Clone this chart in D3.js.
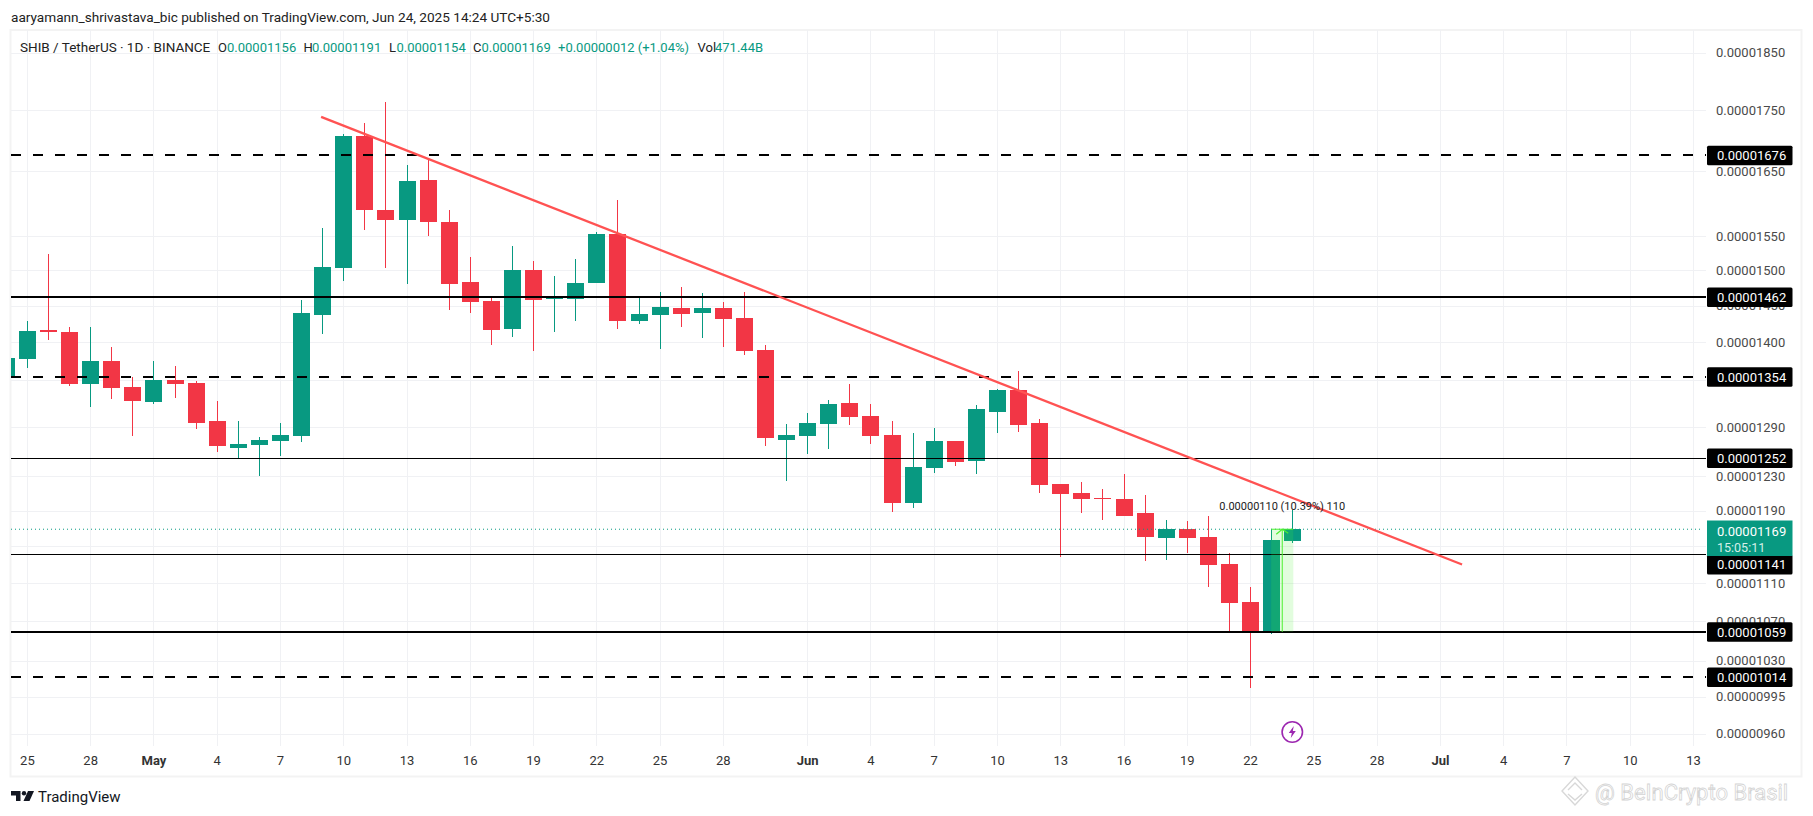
<!DOCTYPE html>
<html><head><meta charset="utf-8">
<script src="https://cdn.jsdelivr.net/npm/d3@7"></script>
<style>
html,body{margin:0;padding:0;background:#fff;overflow:hidden}
svg{display:block}
text{font-family:Roboto,"Liberation Sans",sans-serif}
</style></head><body><svg id="c" width="1813" height="816"></svg>
<script>
// ---- data: all prices in units of 0.00000001 USDT, daily candles from 24 Apr 2025
const firstDay = "2025-04-24";
const opens  = [1354,1377,1417,1414,1344,1374,1341,1322,1350,1346,1297,1264,1268,1273,1279,1437,1504,1708,1590,1575,1637,1572,1484,1457,1418,1501,1459,1459,1482,1554,1429,1437,1447,1440,1446,1433,1389,1274,1279,1294,1320,1304,1280,1199,1240,1273,1249,1309,1337,1295,1221,1210,1205,1203,1187,1159,1169,1160,1130,1090,1060,1156];
const highs  = [1379,1429,1524,1420,1421,1393,1354,1375,1368,1348,1323,1298,1277,1295,1458,1563,1711,1729,1764,1661,1669,1590,1520,1464,1536,1514,1492,1517,1556,1605,1461,1469,1476,1468,1455,1469,1396,1294,1308,1324,1344,1319,1297,1283,1289,1273,1317,1338,1362,1300,1221,1223,1215,1233,1208,1179,1178,1184,1143,1106,1169,1191];
const lows   = [1354,1366,1403,1342,1315,1325,1279,1319,1327,1288,1259,1252,1230,1255,1272,1411,1485,1560,1504,1480,1551,1444,1440,1396,1407,1388,1413,1428,1482,1418,1424,1391,1420,1405,1393,1383,1266,1225,1257,1263,1293,1269,1189,1193,1234,1242,1233,1282,1284,1211,1138,1187,1180,1184,1134,1135,1142,1106,1058,1003,1057,1154];
const closes = [1379,1415,1413,1344,1374,1340,1323,1350,1345,1295,1266,1269,1274,1280,1440,1505,1708,1590,1575,1635,1571,1481,1455,1417,1500,1458,1461,1482,1554,1429,1439,1448,1439,1446,1432,1388,1276,1280,1295,1319,1303,1279,1199,1241,1273,1247,1312,1337,1293,1220,1209,1203,1203,1184,1160,1169,1159,1129,1089,1060,1157,1169];

const priceTicks = [1850,1750,1650,1550,1500,1450,1400,1290,1230,1190,1110,1070,1030,995,960];
const gridOnlyPrices = [1350,1150];
const levels = [
  {p:1676,dash:true,w:2,off:0},{p:1462,dash:false,w:2,off:0},{p:1354,dash:true,w:2,off:0},
  {p:1252,dash:false,w:1,off:0},{p:1141,dash:false,w:1,off:10},{p:1059,dash:false,w:2,off:0},{p:1014,dash:true,w:2,off:0}];
const lastPrice = 1169;
const timeTickDates = ["2025-04-25","2025-04-28","2025-05-01","2025-05-04","2025-05-07","2025-05-10","2025-05-13","2025-05-16","2025-05-19","2025-05-22","2025-05-25","2025-05-28","2025-06-01","2025-06-04","2025-06-07","2025-06-10","2025-06-13","2025-06-16","2025-06-19","2025-06-22","2025-06-25","2025-06-28","2025-07-01","2025-07-04","2025-07-07","2025-07-10","2025-07-13"];
const timeTickLabels = ["25","28","May","4","7","10","13","16","19","22","25","28","Jun","4","7","10","13","16","19","22","25","28","Jul","4","7","10","13"];
const trendDates = ["2025-05-08T22:48Z","2025-07-02T01:12Z"], trendPrices = [1739,1130];
const measureDates = ["2025-06-23","2025-06-24"], measurePrices = [1059,1169];
const measureLabel = "0.00000110 (10.39%) 110";

// ---- scales
const d = s => new Date(s.length===10 ? s+"T00:00Z" : s);
const x = d3.scaleUtc().domain([d("2025-04-25"),d("2025-07-13")]).range([26.9,1693]);
const y = d3.scaleLog().domain([960,1850]).range([733.7,52.7]);
const fmt = v => (v*1e-8).toFixed(8);
const days = opens.map((_,i)=>d3.utcDay.offset(d(firstDay),i));
const GREEN="#089981", RED="#f23645", BLACK="#000";

const svg = d3.select("#c");
svg.append("defs").append("clipPath").attr("id","plot").append("rect").attr("x",11).attr("y",30).attr("width",1695).attr("height",716);

// frame
svg.append("rect").attr("x",10.5).attr("y",30).attr("width",1791).attr("height",746.5).attr("fill","none").attr("stroke","#f3f3f3").attr("stroke-width",2);

// grid through the axes
const gridY = svg.append("g").attr("transform","translate(1706,0)")
  .call(d3.axisLeft(y).tickValues(priceTicks.concat(gridOnlyPrices)).tickSize(1695).tickFormat(""));
const gridX = svg.append("g").attr("transform","translate(0,746)")
  .call(d3.axisBottom(x).tickValues(timeTickDates.map(d)).tickSize(-716).tickFormat(""));
[gridY,gridX].forEach(g=>{g.select(".domain").remove();g.selectAll("line").attr("stroke","#f0f1f4").attr("shape-rendering","crispEdges");});

// candles
const plot = svg.append("g").attr("clip-path","url(#plot)");
const col = i => closes[i]>=opens[i]?GREEN:RED;
plot.selectAll("rect.w").data(days).join("rect").attr("class","w")
  .attr("x",(t)=>Math.round(x(t))).attr("width",1)
  .attr("y",(t,i)=>y(highs[i])).attr("height",(t,i)=>y(lows[i])-y(highs[i]))
  .attr("fill",(t,i)=>col(i)).attr("shape-rendering","crispEdges");
plot.selectAll("rect.b").data(days).join("rect").attr("class","b")
  .attr("x",(t)=>Math.round(x(t))-8).attr("width",17)
  .attr("y",(t,i)=>y(Math.max(opens[i],closes[i])))
  .attr("height",(t,i)=>Math.max(1,Math.abs(y(opens[i])-y(closes[i]))))
  .attr("fill",(t,i)=>col(i)).attr("shape-rendering","crispEdges");

// price dotted line
svg.append("line").attr("x1",11).attr("x2",1703).attr("y1",y(lastPrice)).attr("y2",y(lastPrice))
  .attr("stroke",GREEN).attr("stroke-dasharray","1 3");

// levels
svg.append("g").selectAll("line").data(levels).join("line")
  .attr("x1",11).attr("x2",1706).attr("y1",l=>y(l.p)).attr("y2",l=>y(l.p))
  .attr("stroke",BLACK).attr("stroke-width",l=>l.w).attr("shape-rendering","crispEdges")
  .attr("stroke-dasharray",l=>l.dash?"10 12":null);

// trend line
svg.append("path").datum(trendDates.map((t,i)=>[d(t),trendPrices[i]]))
  .attr("d",d3.line().x(p=>x(p[0])).y(p=>y(p[1])))
  .attr("stroke","#ff5252").attr("stroke-width",2.3).attr("fill","none");

// measure tool
const mx0=x(d(measureDates[0])), mx1=x(d(measureDates[1])), my0=y(measurePrices[1]), my1=y(measurePrices[0]);
const mxm=(mx0+mx1)/2+0.5, mg=svg.append("g");
mg.append("rect").attr("x",mx0).attr("y",my0).attr("width",mx1-mx0+1).attr("height",my1-my0).attr("fill","rgba(76,240,48,0.16)");
mg.append("line").attr("x1",mx0).attr("x2",mx1+1).attr("y1",my0).attr("y2",my0).attr("stroke","#4cf030");
mg.append("line").attr("x1",mxm).attr("x2",mxm).attr("y1",my0).attr("y2",my1).attr("stroke","#4cf030");
mg.append("path").attr("d",d3.line()([[mxm-6,my0+5],[mxm,my0],[mxm+6,my0+4]])).attr("fill","none").attr("stroke","#4cf030").attr("stroke-width",1.2);
mg.append("text").attr("x",mxm).attr("y",510).attr("text-anchor","middle").attr("font-size",11).attr("fill","#222").text(measureLabel);

// price axis
const py = svg.append("g").attr("transform","translate(1716,0)")
  .call(d3.axisRight(y).tickValues(priceTicks).tickSize(0).tickPadding(0).tickFormat(fmt));
py.select(".domain").remove();
py.selectAll("text").attr("font-size",13).attr("fill","#4a4a4a").attr("font-family","Roboto,sans-serif");

// level boxes
const lb = svg.append("g").selectAll("g").data(levels).join("g").attr("transform",l=>`translate(1707,${y(l.p)+l.off})`);
lb.append("rect").attr("x",0).attr("y",-9.5).attr("width",85.5).attr("height",19.5).attr("rx",1.5).attr("fill",BLACK);
lb.append("text").attr("x",10).attr("y",5).attr("font-size",13).attr("fill","#fff").text(l=>fmt(l.p));
const pb = svg.append("g").attr("transform","translate(1707,0)");
pb.append("rect").attr("x",0).attr("y",520.5).attr("width",85.5).attr("height",35.5).attr("fill",GREEN);
pb.append("text").attr("x",10).attr("y",535.5).attr("font-size",13).attr("fill","#fff").text(fmt(lastPrice));
pb.append("text").attr("x",10).attr("y",552).attr("font-size",12.5).attr("fill","#d5efe9").text("15:05:11");

// time axis
const tx = svg.append("g").attr("transform","translate(0,750)")
  .call(d3.axisBottom(x).tickValues(timeTickDates.map(d)).tickSize(0).tickPadding(6).tickFormat((t,i)=>timeTickLabels[i]));
tx.select(".domain").remove();
tx.selectAll("text").attr("font-size",13).attr("fill","#333").attr("font-family","Roboto,sans-serif")
  .attr("font-weight",(t,i)=>/[A-Z]/.test(timeTickLabels[i])?700:400);

// title & legend
svg.append("text").attr("x",11).attr("y",22).attr("font-size",13.6).attr("fill","#222")
  .text("aaryamann_shrivastava_bic published on TradingView.com, Jun 24, 2025 14:24 UTC+5:30");
const hdr=[["SHIB / TetherUS · 1D · BINANCE",20,"#222",13.5],["O",218,"#222",13],["0.00001156",227,GREEN,13],["H",303.5,"#222",13],["0.00001191",312,GREEN,13],
 ["L",389,"#222",13],["0.00001154",396.5,GREEN,13],["C",473,"#222",13],["0.00001169",481.5,GREEN,13],["+0.00000012 (+1.04%)",558,GREEN,13],["Vol",697.5,"#222",13],["471.44B",715,GREEN,13]];
svg.append("g").selectAll("text").data(hdr).join("text").attr("x",h=>h[1]).attr("y",52).attr("font-size",h=>h[3]).attr("fill",h=>h[2]).text(h=>h[0]);

// lightning marker
const bolt = svg.append("g").attr("transform",`translate(${x(d("2025-06-24"))},732)`);
bolt.append("circle").attr("r",10.2).attr("fill","#fff").attr("stroke","#9c27b0").attr("stroke-width",1.6);
bolt.append("path").attr("d","M1.5,-6 L-3.5,1 L-0.5,1 L-1.5,6 L3.5,-1 L0.5,-1 Z").attr("fill","#9c27b0");

// TradingView logo
const logo = svg.append("g").attr("transform","translate(11,791)").attr("fill","#131722");
logo.append("path").attr("d","M0,0H9.5V10H5V4.5H0Z");
logo.append("circle").attr("cx",13).attr("cy",2.2).attr("r",2.2);
logo.append("path").attr("d","M17,0H23L18.5,10H12.5Z");
svg.append("text").attr("x",38).attr("y",802).attr("font-size",15).attr("fill","#131722").text("TradingView");

// watermark
svg.append("text").attr("x",1595).attr("y",800).attr("font-size",22).attr("fill","#fff").attr("stroke","#d4d4d4").attr("stroke-width",0.8).text("@ BeInCrypto Brasil");
const wm = svg.append("g").attr("transform","translate(1575,791)").attr("fill","none").attr("stroke","#d8d8d8").attr("stroke-width",1.4);
wm.append("path").attr("d","M0,-14 L13,0 L0,14 L-13,0 Z");
wm.append("path").attr("d","M-7,-1 L0,-8 L7,-1 M-7,3 L0,9 L7,3");
</script></body></html>
